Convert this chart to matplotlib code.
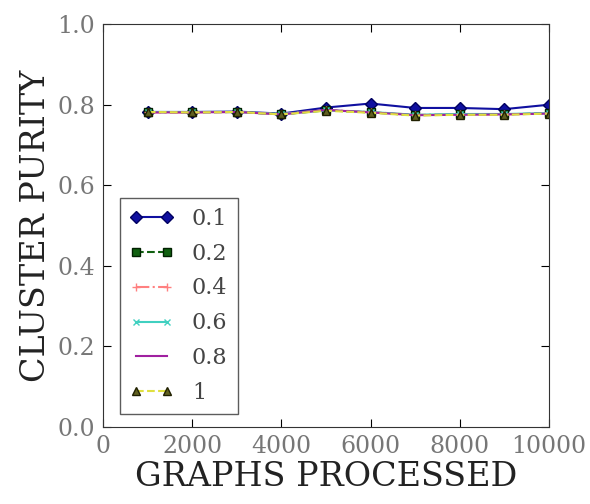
import matplotlib
matplotlib.use("Agg")
import matplotlib.pyplot as plt

plt.rcParams['font.family'] = ['DejaVu Serif']

graphs = [1000, 2000, 3000, 4000, 5000, 6000, 7000, 8000, 9000, 10000]

labels = ['0.1', '0.2', '0.4', '0.6', '0.8', '1']
purity_01 = [0.782, 0.782, 0.783, 0.778, 0.793, 0.803, 0.792, 0.792, 0.789, 0.800]
purity_02 = [0.782, 0.781, 0.782, 0.776, 0.786, 0.781, 0.774, 0.776, 0.776, 0.779]
purity_04 = [0.781, 0.781, 0.782, 0.777, 0.787, 0.782, 0.775, 0.776, 0.776, 0.778]
purity_06 = [0.782, 0.782, 0.782, 0.777, 0.786, 0.782, 0.775, 0.777, 0.777, 0.779]
purity_08 = [0.781, 0.781, 0.782, 0.776, 0.787, 0.781, 0.774, 0.775, 0.776, 0.778]
purity_1 = [0.782, 0.781, 0.782, 0.776, 0.785, 0.780, 0.773, 0.775, 0.775, 0.778]

fig = plt.figure(figsize=(5.9, 5.04), dpi=100)
ax = fig.add_axes([0.175, 0.153, 0.755, 0.799])

ax.plot(graphs, purity_01, color='#1010a0', linestyle='-', marker='D',
        markersize=6, markeredgecolor='#000060', label=labels[0])
ax.plot(graphs, purity_02, color='#106010', linestyle='--', marker='s',
        markersize=6, markeredgecolor='#002000', label=labels[1])
ax.plot(graphs, purity_04, color='#ff8080', linestyle='-.', marker='+',
        markersize=6, label=labels[2])
ax.plot(graphs, purity_06, color='#40d0c0', linestyle='-', marker='x',
        markersize=5, label=labels[3])
ax.plot(graphs, purity_08, color='#a020a0', linestyle='-', label=labels[4])
ax.plot(graphs, purity_1, color='#e0e040', linestyle='--', marker='^',
        markersize=6, markerfacecolor='#606020', markeredgecolor='#202000',
        label=labels[5])

ax.set_xlim(0, 10000)
ax.set_ylim(0.0, 1.0)
ax.set_xticks([0, 2000, 4000, 6000, 8000, 10000])
ax.set_yticks([0.0, 0.2, 0.4, 0.6, 0.8, 1.0])
ax.tick_params(direction='in', top=True, right=True, length=6,
               labelsize=17, labelcolor='#777777', pad=6)
for s in ax.spines.values():
    s.set_color('#333333')

ax.set_xlabel('GRAPHS PROCESSED', fontsize=24, color='#222222', labelpad=2)
ax.set_ylabel('CLUSTER PURITY', fontsize=24, color='#222222', labelpad=4)

leg = ax.legend(loc='lower left', fontsize=16, fancybox=False, numpoints=2,
                handlelength=2.0, labelspacing=0.58, borderpad=0.45,
                bbox_to_anchor=(0.012, 0.004))
leg.get_frame().set_edgecolor('#333333')
for t in leg.get_texts():
    t.set_color('#444444')

fig.savefig('out.png', dpi=100)
